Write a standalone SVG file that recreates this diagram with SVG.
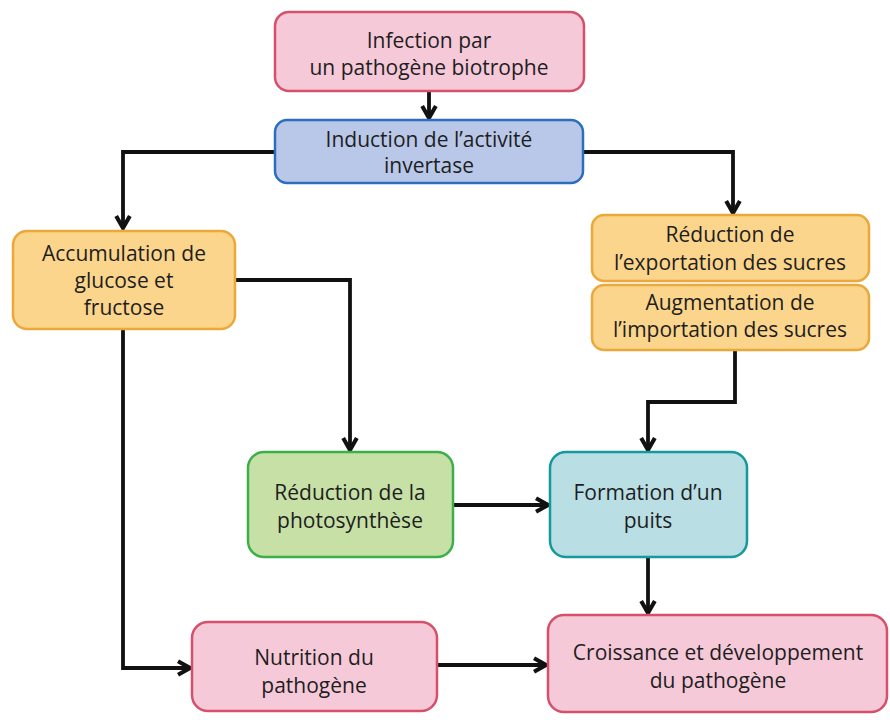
<svg xmlns="http://www.w3.org/2000/svg" width="890" height="720" viewBox="0 0 890 720">
<defs>
<marker id="arr" viewBox="0 0 10 10" refX="8" refY="5" markerWidth="4.5" markerHeight="4.5" orient="auto" markerUnits="strokeWidth">
<path d="M1,1 L8,5 L1,9" fill="none" stroke="#111" stroke-width="2.4" stroke-linejoin="miter"/>
</marker>
<style>
text{font-family:"Open Sans","Noto Sans","Liberation Sans",sans-serif;font-size:21px;fill:#1e1e1e;text-anchor:middle}
.b{stroke-width:2.5}
.pink{fill:#f6c9d9;stroke:#d6506c}
.blue{fill:#b9c8e8;stroke:#2a6ebd}
.orange{fill:#fbd58b;stroke:#eaa93a}
.green{fill:#c6e0a6;stroke:#3bb04a}
.teal{fill:#b9dfe5;stroke:#15999b}
.c{fill:none;stroke:#111;stroke-width:3.8;marker-end:url(#arr)}
</style>
</defs>
<rect width="890" height="720" fill="#fff"/>
<g id="connectors">
<path class="c" d="M429,92 V118"/>
<path class="c" d="M275,152 H123 V228"/>
<path class="c" d="M583,152 H733 V213"/>
<path class="c" d="M235,280 H350 V450"/>
<path class="c" d="M735,350 V402 H648 V450"/>
<path class="c" d="M453,505 H548"/>
<path class="c" d="M648,557 V613"/>
<path class="c" d="M123,330 V668 H190"/>
<path class="c" d="M437,665 H546"/>
</g>
<g id="infection">
<rect class="b pink" x="275" y="12" width="309" height="79" rx="14"/>
<text x="429" y="48">Infection par</text>
<text x="429" y="75">un pathogène biotrophe</text>
</g>
<g id="induction">
<rect class="b blue" x="275" y="120" width="308" height="63" rx="12"/>
<text x="429" y="147">Induction de l’activité</text>
<text x="429" y="173">invertase</text>
</g>
<g id="accumulation">
<rect class="b orange" x="13" y="231" width="222" height="98" rx="14"/>
<text x="124" y="261">Accumulation de</text>
<text x="124" y="288">glucose et</text>
<text x="124" y="315">fructose</text>
</g>
<g id="reduction-export">
<rect class="b orange" x="592" y="215" width="277" height="66" rx="12"/>
<text x="730" y="242">Réduction de</text>
<text x="730" y="270">l’exportation des sucres</text>
</g>
<g id="augmentation-import">
<rect class="b orange" x="592" y="285" width="277" height="65" rx="12"/>
<text x="730" y="310">Augmentation de</text>
<text x="730" y="337">l’importation des sucres</text>
</g>
<g id="photosynthese">
<rect class="b green" x="248" y="452" width="205" height="105" rx="16"/>
<text x="350" y="500">Réduction de la</text>
<text x="350" y="528">photosynthèse</text>
</g>
<g id="puits">
<rect class="b teal" x="550" y="452" width="197" height="105" rx="16"/>
<text x="648" y="500">Formation d’un</text>
<text x="648" y="528">puits</text>
</g>
<g id="nutrition">
<rect class="b pink" x="192" y="622" width="245" height="89" rx="16"/>
<text x="314" y="665">Nutrition du</text>
<text x="314" y="693">pathogène</text>
</g>
<g id="croissance">
<rect class="b pink" x="548" y="615" width="339" height="97" rx="16"/>
<text x="718" y="660">Croissance et développement</text>
<text x="718" y="688">du pathogène</text>
</g>
</svg>
